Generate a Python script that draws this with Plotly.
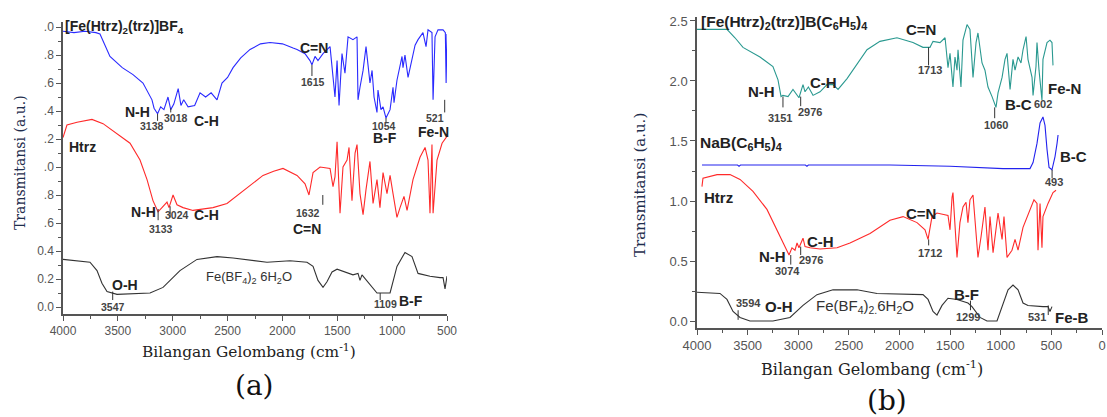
import plotly.graph_objects as go

# ---------------- DATA ----------------
# Panel (a)
a_blue_wn = [4000, 3900, 3800, 3700, 3663, 3572, 3460, 3362, 3271, 3189, 3170, 3138, 3110, 3080, 3043, 3018, 2990, 2950,
             2925, 2900, 2860, 2800, 2751, 2700, 2650, 2596, 2551, 2500, 2450, 2380, 2295, 2200, 2113, 2000, 1903, 1867,
             1794, 1749, 1731, 1703, 1676, 1630, 1566, 1539, 1521, 1502, 1484, 1457, 1430, 1402, 1357, 1320, 1311, 1293,
             1265, 1238, 1220, 1202, 1183, 1165, 1138, 1129, 1102, 1083, 1056, 1019, 992, 983, 956, 928, 910, 901, 883,
             855, 819, 791, 764, 719, 691, 673, 637, 627, 609, 582, 536, 515, 508, 500]
a_blue_t = [1.97, 1.96, 1.97, 1.96, 1.95, 1.79, 1.71, 1.66, 1.60, 1.48, 1.42, 1.38, 1.43, 1.41, 1.50, 1.41, 1.45, 1.56,
            1.44, 1.48, 1.43, 1.44, 1.53, 1.50, 1.53, 1.48, 1.60, 1.64, 1.71, 1.78, 1.84, 1.88, 1.89, 1.88, 1.85, 1.84,
            1.81, 1.76, 1.73, 1.79, 1.76, 1.81, 1.86, 1.67, 1.50, 1.76, 1.44, 1.81, 1.67, 1.93, 1.91, 1.93, 1.48, 1.57,
            1.69, 1.86, 1.74, 1.60, 1.69, 1.50, 1.39, 1.55, 1.41, 1.43, 1.35, 1.41, 1.57, 1.46, 1.62, 1.74, 1.79, 1.71,
            1.80, 1.64, 1.76, 1.87, 1.91, 1.96, 1.86, 1.98, 1.96, 1.48, 1.93, 1.98, 1.98, 1.96, 1.60, 1.95]

a_red_wn = [4000, 3964, 3872, 3736, 3635, 3508, 3389, 3298, 3234, 3180, 3134, 3098, 3052, 3034, 2997, 2961, 2906, 2815,
            2633, 2505, 2387, 2295, 2177, 2080, 1995, 1867, 1794, 1758, 1721, 1657, 1566, 1539, 1521, 1502, 1475, 1448,
            1411, 1393, 1366, 1338, 1320, 1293, 1265, 1238, 1202, 1174, 1138, 1111, 1083, 1047, 1019, 992, 956, 928,
            892, 864, 810, 746, 700, 673, 655, 637, 627, 591, 545, 500]
a_red_t = [1.21, 1.30, 1.32, 1.34, 1.31, 1.24, 1.17, 1.05, 0.91, 0.76, 0.68, 0.71, 0.75, 0.71, 0.80, 0.73, 0.71, 0.69,
           0.71, 0.74, 0.81, 0.87, 0.94, 0.97, 0.99, 0.94, 0.88, 0.80, 0.96, 1.00, 0.99, 0.86, 0.93, 1.18, 0.67, 1.00,
           1.05, 1.14, 0.76, 1.10, 1.16, 0.81, 0.66, 0.84, 1.04, 0.74, 0.91, 0.71, 0.96, 0.81, 0.94, 0.81, 0.64, 0.71,
           0.79, 0.69, 0.91, 1.07, 1.14, 1.05, 0.67, 1.16, 0.67, 1.05, 1.17, 1.22]

a_blk_wn = [4000, 3754, 3690, 3645, 3599, 3508, 3207, 3088, 2934, 2779, 2596, 2450, 2141, 1931, 1776, 1721, 1676, 1630,
            1594, 1548, 1502, 1357, 1311, 1293, 1275, 1202, 1138, 1019, 956, 883, 819, 764, 655, 564, 536, 518, 500]
a_blk_t = [0.34, 0.32, 0.26, 0.17, 0.11, 0.09, 0.10, 0.14, 0.26, 0.34, 0.36, 0.35, 0.32, 0.33, 0.32, 0.29, 0.19, 0.14,
           0.18, 0.25, 0.27, 0.23, 0.24, 0.19, 0.23, 0.16, 0.10, 0.10, 0.29, 0.39, 0.36, 0.24, 0.22, 0.21, 0.21, 0.13, 0.22]

# Panel (b)
b_teal_wn = [4000, 3704, 3625, 3546, 3378, 3250, 3200, 3170, 3151, 3101, 3052, 3012, 2993, 2953, 2933, 2900, 2854, 2785,
             2716, 2657, 2607, 2518, 2459, 2321, 2193, 2025, 1867, 1768, 1699, 1669, 1600, 1550, 1521, 1501, 1472, 1452,
             1432, 1422, 1393, 1373, 1333, 1304, 1274, 1244, 1225, 1205, 1185, 1156, 1126, 1086, 1047, 1027, 987, 958,
             938, 908, 879, 859, 829, 800, 780, 750, 731, 691, 681, 652, 642, 622, 593, 583, 543, 514, 494, 484]
b_teal_t = [2.43, 2.43, 2.36, 2.28, 2.20, 2.12, 2.01, 1.87, 1.88, 1.87, 1.93, 1.88, 1.86, 1.97, 1.91, 1.95, 1.88, 1.91,
            1.97, 1.97, 1.93, 2.02, 2.09, 2.26, 2.33, 2.36, 2.32, 2.28, 2.28, 2.33, 2.32, 2.36, 2.11, 2.23, 1.95, 2.20,
            2.09, 2.26, 1.95, 2.34, 2.47, 2.43, 2.03, 2.32, 2.40, 2.28, 2.15, 2.09, 1.95, 1.87, 1.78, 1.90, 2.03, 2.18,
            2.23, 1.93, 2.18, 2.09, 2.20, 2.15, 2.26, 2.37, 2.18, 2.03, 1.88, 2.12, 2.32, 2.09, 1.84, 2.18, 2.32, 2.34, 2.32, 2.13]

b_blue_wn = [3951, 3600, 3585, 3570, 2930, 2914, 2900, 2094, 1501, 978, 711, 681, 642, 612, 583, 563, 543, 523, 494, 464, 444, 434]
b_blue_t = [1.30, 1.30, 1.29, 1.30, 1.30, 1.29, 1.30, 1.30, 1.29, 1.27, 1.27, 1.32, 1.48, 1.65, 1.70, 1.63, 1.43, 1.28, 1.26, 1.37, 1.48, 1.55]

b_red_wn = [3951, 3941, 3802, 3674, 3575, 3447, 3309, 3210, 3111, 3091, 3062, 3032, 3012, 2993, 2953, 2933, 2884, 2785,
            2617, 2489, 2291, 2094, 1965, 1827, 1748, 1718, 1679, 1630, 1521, 1501, 1481, 1472, 1432, 1403, 1373, 1343,
            1324, 1304, 1274, 1254, 1225, 1195, 1156, 1126, 1106, 1076, 1037, 1027, 987, 968, 938, 889, 859, 829, 780,
            711, 672, 642, 632, 612, 593, 583, 533, 484, 454]
b_red_t = [1.12, 1.19, 1.22, 1.22, 1.18, 1.08, 0.93, 0.76, 0.58, 0.55, 0.61, 0.59, 0.65, 0.61, 0.69, 0.62, 0.61, 0.60,
           0.61, 0.65, 0.73, 0.84, 0.87, 0.82, 0.76, 0.68, 0.87, 0.90, 0.88, 0.76, 1.03, 1.07, 0.53, 0.82, 0.95, 0.99,
           0.82, 1.01, 1.05, 0.82, 0.53, 0.70, 0.95, 0.59, 0.87, 0.57, 0.82, 0.90, 0.68, 0.87, 0.53, 0.59, 0.68, 0.59, 0.78,
           0.93, 1.01, 0.98, 0.59, 0.98, 0.61, 0.87, 0.98, 1.07, 1.09]

b_blk_wn = [4000, 3773, 3704, 3644, 3575, 3477, 3250, 3082, 2953, 2815, 2657, 2420, 2222, 1768, 1718, 1669, 1630, 1580,
            1521, 1432, 1324, 1284, 1205, 1136, 1037, 978, 928, 879, 829, 780, 731, 583, 533, 514, 494]
b_blk_t = [0.24, 0.23, 0.18, 0.08, 0.03, 0.00, 0.00, 0.03, 0.13, 0.22, 0.26, 0.26, 0.23, 0.22, 0.18, 0.08, 0.05, 0.13,
           0.19, 0.18, 0.15, 0.12, 0.03, 0.00, 0.00, 0.15, 0.26, 0.30, 0.26, 0.15, 0.13, 0.12, 0.12, 0.08, 0.12]

# Tick labels
a_xticks = [4000, 3500, 3000, 2500, 2000, 1500, 1000, 500]
a_yticks = [0.0, 0.2, 0.4, 0.6, 0.8, 1.0, 1.2, 1.4, 1.6, 1.8, 2.0]
a_yticktext = ["0.0", "0.2", "0.4", ".6", ".8", ".0", ".2", ".4", ".6", ".8", ".0"]
b_xticks = [4000, 3500, 3000, 2500, 2000, 1500, 1000, 500, 0]
b_yticks = [0.0, 0.5, 1.0, 1.5, 2.0, 2.5]
b_yticktext = ["0.0", "0.5", "1.0", "1.5", "2.0", "2.5"]

# Annotation texts: (panel, text, x, y, xanchor, kind)
labels = [
    ("a", "[Fe(Htrz)<sub>2</sub>(trz)]BF<sub>4</sub>", 4000, 2.0, "left", "name"),
    ("a", "N-H", 3189, 1.39, "right", "group"),
    ("a", "3138", 3189, 1.29, "center", "num"),
    ("a", "3018", 2970, 1.35, "center", "num"),
    ("a", "C-H", 2824, 1.33, "left", "group"),
    ("a", "C=N", 1712, 1.85, "center", "group"),
    ("a", "1615", 1721, 1.61, "center", "num"),
    ("a", "1054", 1074, 1.29, "center", "num"),
    ("a", "B-F", 1065, 1.21, "center", "group"),
    ("a", "521", 609, 1.35, "center", "num"),
    ("a", "Fe-N", 620, 1.25, "center", "group"),
    ("a", "Htrz", 3964, 1.14, "left", "group"),
    ("a", "N-H", 3134, 0.68, "right", "group"),
    ("a", "3133", 3107, 0.56, "center", "num"),
    ("a", "3024", 2961, 0.66, "center", "num"),
    ("a", "C-H", 2824, 0.66, "left", "group"),
    ("a", "1632", 1767, 0.67, "center", "num"),
    ("a", "C=N", 1780, 0.56, "center", "group"),
    ("a", "O-H", 3572, 0.16, "left", "group"),
    ("a", "3547", 3544, 0.00, "center", "num"),
    ("a", "Fe(BF<sub>4</sub>)<sub>2</sub> 6H<sub>2</sub>O", 2305, 0.21, "center", "plain"),
    ("a", "1109", 1065, 0.02, "center", "num"),
    ("a", "B-F", 956, 0.04, "left", "group"),
    ("b", "[Fe(Htrz)<sub>2</sub>(trz)]B(C<sub>6</sub>H<sub>5</sub>)<sub>4</sub>", 3980, 2.49, "left", "nameb"),
    ("b", "N-H", 3210, 1.91, "right", "groupb"),
    ("b", "3151", 3180, 1.69, "center", "numb"),
    ("b", "2976", 2884, 1.74, "center", "numb"),
    ("b", "C-H", 2904, 1.99, "left", "groupb"),
    ("b", "C=N", 1788, 2.43, "center", "groupb"),
    ("b", "1713", 1699, 2.09, "center", "numb"),
    ("b", "1060", 1047, 1.63, "center", "numb"),
    ("b", "B-C", 978, 1.80, "left", "groupb"),
    ("b", "602", 583, 1.81, "center", "numb"),
    ("b", "Fe-N", 375, 1.94, "center", "groupb"),
    ("b", "NaB(C<sub>6</sub>H<sub>5</sub>)<sub>4</sub>", 3990, 1.48, "left", "nameb"),
    ("b", "B-C", 434, 1.37, "left", "groupb"),
    ("b", "493", 474, 1.16, "center", "numb"),
    ("b", "Htrz", 3950, 1.03, "left", "groupb"),
    ("b", "N-H", 3101, 0.54, "right", "groupb"),
    ("b", "3074", 3111, 0.42, "center", "numb"),
    ("b", "2976", 2874, 0.51, "center", "numb"),
    ("b", "C-H", 2933, 0.66, "left", "groupb"),
    ("b", "C=N", 1788, 0.90, "center", "groupb"),
    ("b", "1712", 1699, 0.57, "center", "numb"),
    ("b", "3594", 3496, 0.15, "center", "numb"),
    ("b", "O-H", 3348, 0.12, "left", "groupb"),
    ("b", "Fe(BF<sub>4</sub>)<sub>2.</sub>6H<sub>2</sub>O", 2341, 0.12, "center", "plainb"),
    ("b", "B-F", 1343, 0.22, "center", "groupb"),
    ("b", "1299", 1324, 0.03, "center", "numb"),
    ("b", "531", 642, 0.03, "center", "numb"),
    ("b", "Fe-B", 484, 0.03, "left", "groupb"),
]

# Leader lines: (panel, x, y0, y1)
leaders = [
    ("a", 3138, 1.38, 1.33), ("a", 3018, 1.42, 1.39), ("a", 1731, 1.73, 1.65), ("a", 1056, 1.35, 1.32),
    ("a", 521, 1.48, 1.39), ("a", 3133, 0.70, 0.62), ("a", 3024, 0.72, 0.64), ("a", 1632, 0.80, 0.73),
    ("a", 3547, 0.11, 0.05), ("a", 1109, 0.10, 0.05),
    ("b", 3151, 1.87, 1.78), ("b", 2976, 1.87, 1.79), ("b", 1713, 2.28, 2.13), ("b", 1060, 1.78, 1.69),
    ("b", 493, 1.26, 1.19), ("b", 3074, 0.55, 0.47), ("b", 2976, 0.62, 0.55), ("b", 1712, 0.68, 0.63),
    ("b", 3594, 0.09, 0.01), ("b", 1299, 0.17, 0.09), ("b", 531, 0.13, 0.05),
]

# ---------------- FIGURE ----------------
fig = go.Figure()
lw = 1.1
fig.add_trace(go.Scatter(x=a_blue_wn, y=a_blue_t, mode="lines", line=dict(color="#2a2aff", width=lw), xaxis="x", yaxis="y"))
fig.add_trace(go.Scatter(x=a_red_wn, y=a_red_t, mode="lines", line=dict(color="#ff2a2a", width=lw), xaxis="x", yaxis="y"))
fig.add_trace(go.Scatter(x=a_blk_wn, y=a_blk_t, mode="lines", line=dict(color="#333333", width=lw), xaxis="x", yaxis="y"))
fig.add_trace(go.Scatter(x=b_teal_wn, y=b_teal_t, mode="lines", line=dict(color="#2a9990", width=lw), xaxis="x2", yaxis="y2"))
fig.add_trace(go.Scatter(x=b_blue_wn, y=b_blue_t, mode="lines", line=dict(color="#2222ee", width=lw), xaxis="x2", yaxis="y2"))
fig.add_trace(go.Scatter(x=b_red_wn, y=b_red_t, mode="lines", line=dict(color="#ff2a2a", width=lw), xaxis="x2", yaxis="y2"))
fig.add_trace(go.Scatter(x=b_blk_wn, y=b_blk_t, mode="lines", line=dict(color="#333333", width=lw), xaxis="x2", yaxis="y2"))

W, H = 1107, 417
tickfont_a = dict(family="Liberation Sans, Arial", size=12, color="#555555")
tickfont_b = dict(family="Liberation Sans, Arial", size=13, color="#555555")
axcol = "#555555"

common = dict(showgrid=False, zeroline=False, showline=True, linecolor=axcol, linewidth=1.5, automargin=False,
              ticks="outside", ticklen=5, tickcolor=axcol, tickwidth=1.2)

fig.update_layout(
    template="none",
    width=W, height=H, margin=dict(l=0, r=0, t=0, b=0, pad=0),
    paper_bgcolor="white", plot_bgcolor="white", showlegend=False,
    xaxis=dict(domain=[63 / W, 447 / W], range=[4000, 500], anchor="y", tickvals=a_xticks,
               tickfont=tickfont_a, minor=dict(ticks="outside", ticklen=3, dtick=250, tickcolor=axcol), **common),
    yaxis=dict(domain=[1 - 314 / H, 1 - 22 / H], range=[-0.05, 2.036], anchor="x", tickvals=a_yticks,
               ticktext=a_yticktext, tickfont=tickfont_a,
               minor=dict(ticks="outside", ticklen=3, dtick=0.1, tickcolor=axcol), **common),
    xaxis2=dict(domain=[697 / W, 1102 / W], range=[4000, 0], anchor="y2", tickvals=b_xticks,
                tickfont=tickfont_b, minor=dict(ticks="outside", ticklen=3, dtick=250, tickcolor=axcol), **common),
    yaxis2=dict(domain=[1 - 328 / H, 1 - 17 / H], range=[-0.058, 2.533], anchor="x2", tickvals=b_yticks,
                ticktext=b_yticktext, tickfont=tickfont_b,
                minor=dict(ticks="outside", ticklen=3, dtick=0.25, tickcolor=axcol), **common),
)

styles = {
    "name": dict(size=14, bold=True, color="#222222"),
    "group": dict(size=14, bold=True, color="#222222"),
    "num": dict(size=10.5, bold=True, color="#444444"),
    "plain": dict(size=13, bold=False, color="#333333"),
    "nameb": dict(size=15.5, bold=True, color="#222222"),
    "groupb": dict(size=15, bold=True, color="#222222"),
    "numb": dict(size=11, bold=True, color="#444444"),
    "plainb": dict(size=15, bold=False, color="#333333"),
}
anns = []
for panel, text, x, y, xa, kind in labels:
    st = styles[kind]
    t = "<b>" + text + "</b>" if st["bold"] else text
    anns.append(dict(text=t, x=x, y=y, xref="x" if panel == "a" else "x2", yref="y" if panel == "a" else "y2",
                     xanchor=xa, yanchor="middle", showarrow=False,
                     font=dict(family="Liberation Sans, Arial", size=st["size"], color=st["color"])))

serif = "DejaVu Serif, Liberation Serif, serif"
navy = "#1e2d4d"
paper_txt = [
    ("Transmitansi (a.u.)", 20, 163, -90, 14, navy),
    ("Transmitansi (a.u.)", 640, 185, -90, 15, navy),
    ("Bilangan Gelombang (cm<sup>-1</sup>)", 249, 351, 0, 15.4, "#222222"),
    ("Bilangan Gelombang (cm<sup>-1</sup>)", 872, 368, 0, 16, "#222222"),
    ("(a)", 254, 385, 0, 28, "#111111"),
    ("(b)", 887, 400, 0, 28, "#111111"),
]
for text, px, py, ang, size, col in paper_txt:
    anns.append(dict(text=text, x=px / W, y=1 - py / H, xref="paper", yref="paper", textangle=ang,
                     xanchor="center", yanchor="middle", showarrow=False,
                     font=dict(family=serif, size=size, color=col)))
fig.update_layout(annotations=anns)

shapes = []
for panel, x, y0, y1 in leaders:
    shapes.append(dict(type="line", x0=x, x1=x, y0=y0, y1=y1, xref="x" if panel == "a" else "x2",
                       yref="y" if panel == "a" else "y2", line=dict(color="#333333", width=1)))
fig.update_layout(shapes=shapes)

fig.write_html("out.html")
